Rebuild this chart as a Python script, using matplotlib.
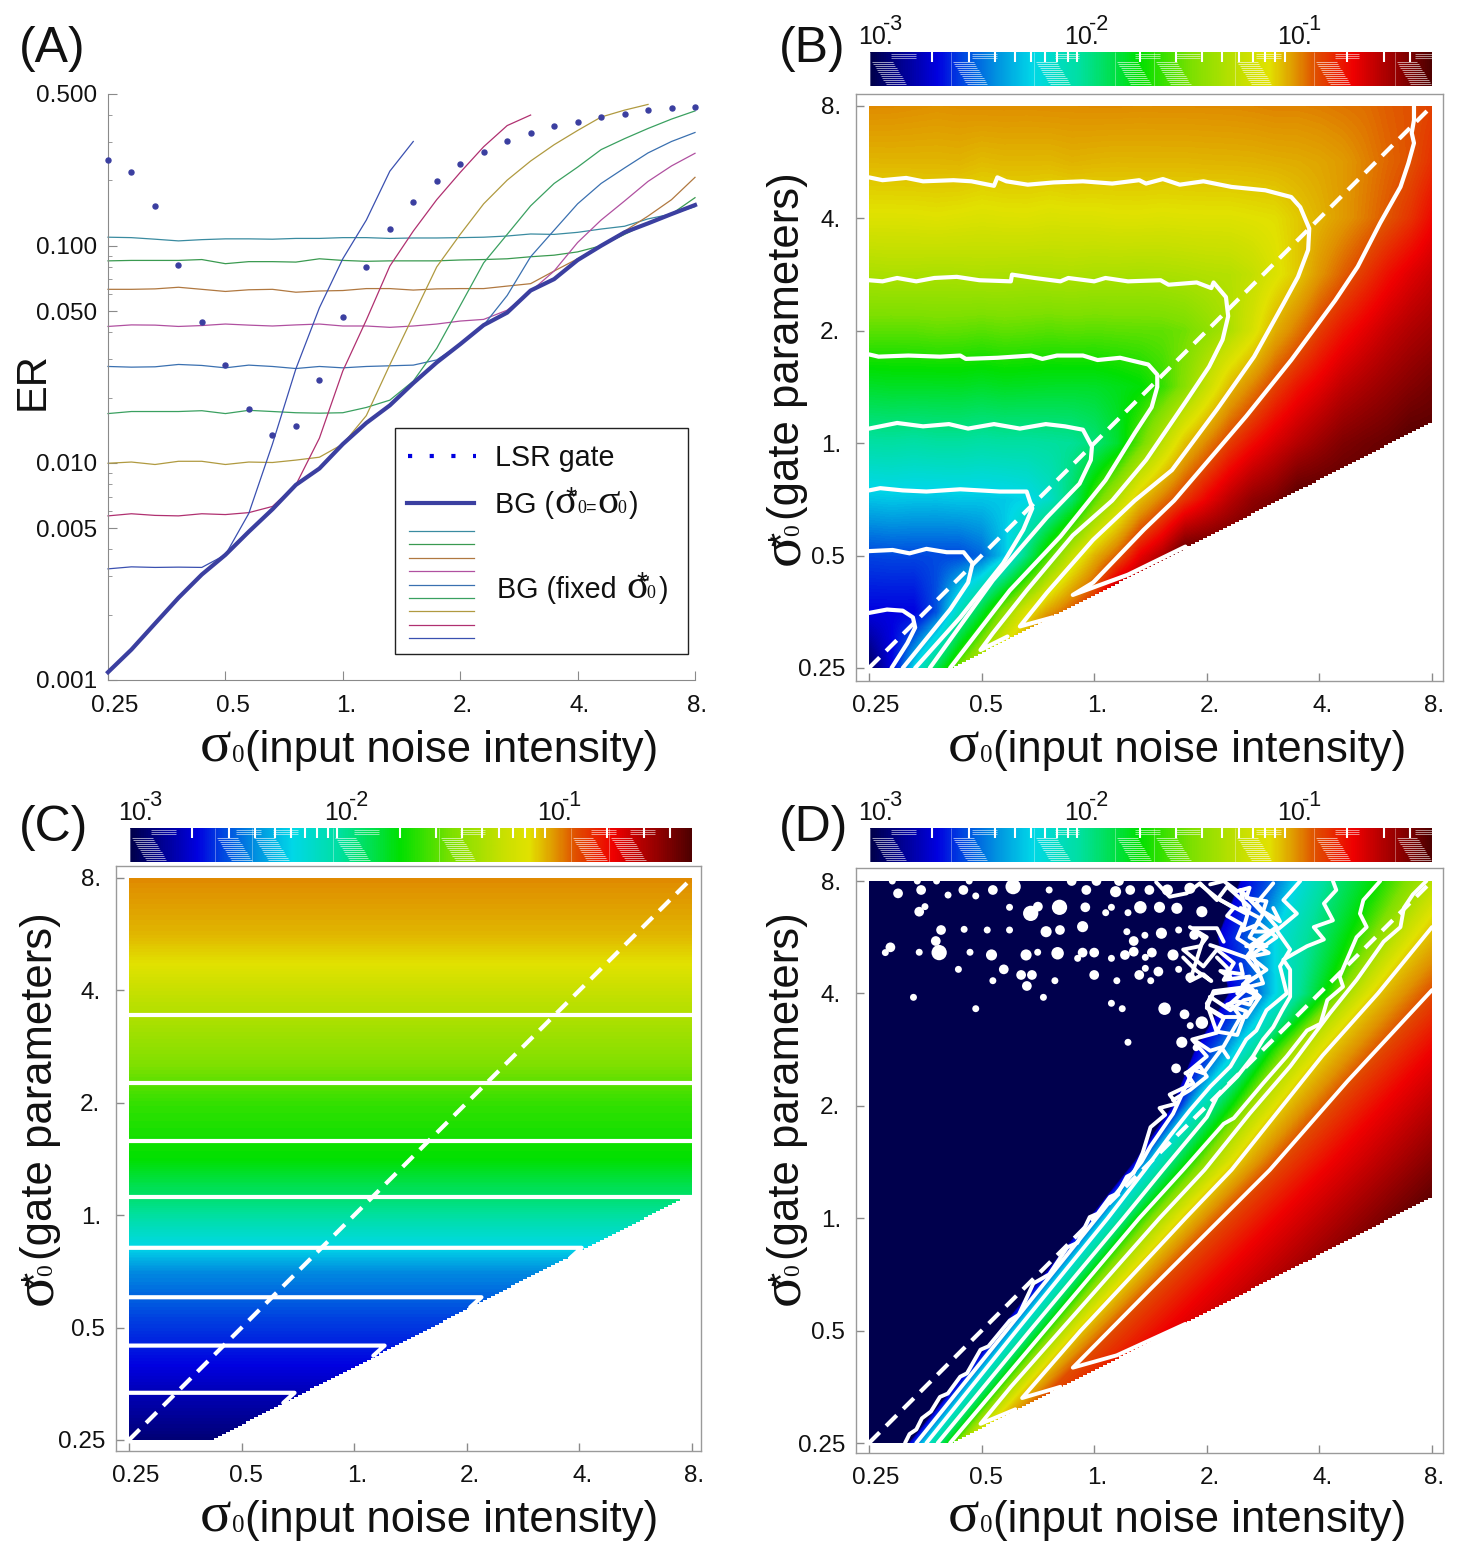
import numpy as np
import matplotlib
matplotlib.use('Agg')
import matplotlib.pyplot as plt
from matplotlib.colors import LinearSegmentedColormap
from matplotlib.lines import Line2D
from matplotlib.patches import Polygon, Rectangle
from matplotlib.transforms import ScaledTranslation

W, H = 1465, 1546
plt.rcParams['font.family'] = ['Liberation Sans', 'DejaVu Sans']

# noise intensities sampled along the x axis of panel A
sigma0 = [0.25, 0.287, 0.330, 0.379, 0.435, 0.5, 0.574, 0.660, 0.758, 0.871, 1.0, 1.149, 1.320,
          1.516, 1.741, 2.0, 2.297, 2.639, 3.031, 3.482, 4.0, 4.595, 5.278, 6.063, 6.964, 8.0]

lsr_gate = [.248, .219, .152, .0813, .0446, .0281, .0178, .01346, .01476, .02415, .0472, .0802, .120,
            .1596, .1995, .237, .271, .303, .331, .355, .372, .390, .405, .420, .429, .436]
bg_matched = [.001086, .00138, .00182, .00239, .00306, .00377, .00482, .00611, .00792, .00942, .0122,
              .01527, .0184, .0233, .0290, .0352, .0431, .0492, .0622, .0702, .0859, .100, .1153,
              .1268, .140, .154]

# error rate for a fixed gate parameter, one list per sigma*
bg_fixed_8 = [.1095, .109, .1072, .1053, .1067, .1076, .1076, .1072, .1081, .1081, .109, .109, .1081,
              .1086, .1086, .109, .1095, .1109, .1133, .1128, .1153, .1194, .123, .133, .140, .1514]
bg_fixed_566 = [.0852, .0856, .0856, .0856, .0864, .0827, .0845, .0845, .0841, .0871, .0856, .0848, .0852,
                .0852, .0852, .086, .0864, .0871, .089, .0905, .0937, .100, .1128, .1274, .140, .1665]
bg_fixed_4 = [.063, .063, .0633, .0644, .063, .0616, .0627, .063, .0611, .0619, .0622, .0635, .0635,
              .0625, .0633, .0635, .0635, .0652, .0669, .0765, .0871, .1, .1168, .137, .163, .2066]
bg_fixed_283 = [.0425, .0432, .0431, .0425, .0429, .0436, .0431, .0427, .0432, .0436, .0427, .0427, .0421,
                .0427, .0436, .045, .0458, .0505, .0616, .0765, .1035, .1313, .1608, .1979, .2332, .2666]
bg_fixed_2 = [.0278, .0276, .0277, .0284, .0281, .0274, .0282, .0278, .0272, .0278, .0274, .0278, .028,
              .0282, .0298, .0352, .0431, .059, .089, .1179, .156, .1936, .2282, .2677, .3022, .3324]
bg_fixed_141 = [.01687, .01724, .01724, .01724, .01739, .01687, .01746, .01724, .01702, .01694, .01702, .018,
                .01945, .0238, .0337, .053, .0834, .1128, .1527, .1936, .2302, .2772, .3114, .3469, .3832, .4178]
bg_fixed_1 = [.00996, .01009, .00983, .01017, .01017, .00983, .01009, .01004, .0103, .01062, .0122, .01651,
              .0283, .0476, .0799, .1128, .156, .2005, .2456, .292, .3396, .3916, .4214, .4477]
bg_fixed_071 = [.0057, .00583, .00573, .0057, .00583, .00578, .0059, .0063, .00792, .013, .0265, .0455,
                .0806, .1168, .163, .2176, .2858, .3577, .4]
bg_fixed_05 = [.00325, .00332, .0033, .00331, .0033, .00377, .00585, .0122, .0271, .0518, .0871, .1313,
               .2205, .3022]
bg_fixed_035 = [.0022, .0022, .0022, .0035, .0085, .0165, .036, .064, .1, .14, .2]
bg_fixed_025 = [.0011, .0022, .0065, .0145, .032, .06, .1, .15]

fixed_lines = [bg_fixed_8, bg_fixed_566, bg_fixed_4, bg_fixed_283, bg_fixed_2,
               bg_fixed_141, bg_fixed_1, bg_fixed_071, bg_fixed_05]
fixed_colors = ['#3a8ba0', '#3a9a50', '#b07840', '#b050a0', '#3a70b0',
                '#3aa060', '#b09a40', '#b03070', '#3a50b0']

# all maps use octaves above sigma = 0.25 as their coordinates
octave_ticks = [0, 1, 2, 3, 4, 5]
octave_labels = ['0.25', '0.5', '1.', '2.', '4.', '8.']
region_corner_u = .72
region_corner_v = 2.2

# colour scale: log10(ER) against colour, for the bars and for the maps
scale_colors = ['#00004d', '#0000e0', '#0040e0', '#0090e0', '#00d8e8', '#00e0a0', '#00e040', '#00e000',
                '#80e000', '#c8e000', '#e2e200', '#e09000', '#e05000', '#f00000', '#a00000', '#500000']
bar_log = [-3, -2.68, -2.57, -2.40, -2.22, -1.99, -1.81, -1.70, -1.44, -1.20, -1.07, -.94, -.85, -.667, -.48, -.29]
map_log = [-3, -2.66, -2.5, -2.35, -2.2, -1.99, -1.81, -1.70, -1.5, -1.28, -1.18, -.97, -.85, -.667, -.48, -.29]

# panel C depends on sigma* only
c_rows_v = [0, .5, 1, 1.5, 2, 2.5, 3, 3.5, 4, 4.5, 5]
c_rows_er = [.00125, .0019, .003, .0044, .0102, .02, .024, .036, .052, .085, .11]
c_contour_v = [3.78, 3.18, 2.66, 2.16, 1.71, 1.27, .84, .42]
c_contour_end = [5, 5, 5, 5, 4.02, 3.13, 2.27, 1.47]

# panel B contours, octave coordinates
b_c1_u = [0, .16, .30, .39, .41, .34, .20]
b_c1_v = [.49, .52, .51, .45, .36, .22, 0]
b_c2_u = [0, .21, .36, .51, .69, .84, .92, .88, .72, .30]
b_c2_v = [1.04, 1.05, 1.02, 1.06, 1.03, 1.03, .93, .76, .52, 0]
b_c3_u = [0, .10, .30, .51, .81, 1.16, 1.40, 1.45, 1.37, 1.19, .81, .41]
b_c3_v = [1.58, 1.60, 1.58, 1.57, 1.59, 1.57, 1.57, 1.42, 1.23, .93, .45, 0]
b_c4_u = [0, .25, .48, .71, .88, 1.11, 1.34, 1.57, 1.74, 1.90, 1.98, 1.97, 1.87, 1.58, 1.10, .54]
b_c4_v = [2.13, 2.18, 2.15, 2.17, 2.13, 2.17, 2.13, 2.17, 2.15, 2.12, 1.97, 1.85, 1.64, 1.34, .78, 0]
b_c5_u = [0, .085, .35, .63, .81, .86, 1.14, 1.44, 1.54, 1.67, 1.90, 2.03, 2.23, 2.48, 2.56, 2.56, 2.51,
          2.36, 2.1, 1.70, 1.25, .72]
b_c5_v = [2.79, 2.77, 2.78, 2.77, 2.78, 2.75, 2.76, 2.78, 2.75, 2.78, 2.78, 2.74, 2.76, 2.70, 2.61, 2.50,
          2.32, 2.09, 1.67, 1.17, .69, 0]
b_c6_u = [0, .12, .25, .42, .58, .78, .98, 1.26, 1.27, 1.47, 1.70, 1.77, 2.0, 2.1, 2.3, 2.59, 2.66, 2.91,
          3.04, 3.06, 3.17, 3.19, 3.14, 3.02, 2.82, 2.46, 2.16, 1.81, 1.40, 1.10, .99, 1.23]
b_c6_v = [3.45, 3.44, 3.47, 3.44, 3.47, 3.48, 3.45, 3.44, 3.50, 3.47, 3.44, 3.47, 3.44, 3.47, 3.44, 3.45,
          3.41, 3.43, 3.38, 3.43, 3.30, 3.13, 2.92, 2.68, 2.38, 1.85, 1.49, 1.18, .69, .31, .16, .28]
b_c7_u = [0, .12, .33, .48, .75, .91, 1.11, 1.14, 1.22, 1.41, 1.64, 1.90, 2.16, 2.40, 2.46, 2.61, 2.76, 2.97,
          3.22, 3.52, 3.75, 3.83, 3.91, 3.90, 3.81, 3.68, 3.42, 3.09, 2.69, 2.36, 1.99, 1.58, 1.34, 1.63]
b_c7_v = [4.365, 4.34, 4.36, 4.33, 4.34, 4.33, 4.29, 4.365, 4.33, 4.30, 4.32, 4.33, 4.31, 4.34, 4.31, 4.35,
          4.30, 4.33, 4.28, 4.25, 4.19, 4.10, 3.91, 3.72, 3.48, 3.24, 2.77, 2.30, 1.76, 1.49, 1.14, .67, .37, .45]
b_c8_u = [4.84, 4.84, 4.82, 4.84, 4.79, 4.72, 4.54, 4.34, 4.14, 3.75, 3.35, 2.71, 2.44, 1.99, 1.81, 2.3, 2.81]
b_c8_v = [5.0, 4.875, 4.76, 4.67, 4.49, 4.28, 3.96, 3.57, 3.27, 2.74, 2.24, 1.49, 1.23, .76, .65, .83, 1.08]
b_contours = [(b_c1_u, b_c1_v), (b_c2_u, b_c2_v), (b_c3_u, b_c3_v), (b_c4_u, b_c4_v),
              (b_c5_u, b_c5_v), (b_c6_u, b_c6_v), (b_c7_u, b_c7_v), (b_c8_u, b_c8_v)]

# panel D: sigma0 - sigma* (octaves) where each level is crossed, per row of sigma*
d_rows_v = [0, .5, 1, 1.5, 2, 2.5, 3, 3.5, 4, 4.5, 5]
d_levels_log = [-2.68, -2.41, -2.14, -1.94, -1.66, -1.38, -1.11, -.85]
d_cross_0 = [.36, .26, .16, .06, -.04, -.14, -.3, -.6, -.8, -1.4, -1.7]
d_cross_1 = [.42, .32, .22, .12, .02, -.08, -.2, -.4, -.55, -1.1, -1.4]
d_cross_2 = [.51, .41, .31, .22, .12, .02, -.1, -.2, -.35, -.85, -1.15]
d_cross_3 = [.61, .52, .43, .34, .26, .17, .05, -.05, -.15, -.55, -.9]
d_cross_4 = [.72, .64, .56, .48, .40, .35, .24, .09, .08, -.2, -.45]
d_cross_5 = [.82, .76, .70, .64, .58, .54, .41, .29, .25, .1, -.07]
d_cross_6 = [.96, .92, .88, .85, .81, .78, .68, .59, .52, .43, .33]
d_cross_7 = [1.14, 1.14, 1.14, 1.14, 1.13, 1.12, 1.07, 1.02, .97, .92, .87]

# panel D contours, octave coordinates
d_c1_u = [.32, .36, .42, .47, .55, .63, .70, .81, .87, .99, 1.06, 1.25, 1.33, 1.46, 1.60, 1.76, 1.85, 1.96, 2.03,
          2.14, 2.21, 2.29, 2.35, 2.43, 2.5, 2.63, 2.58, 2.73, 2.67, 2.88, 2.82, 3.0, 2.87, 3.09, 3.0, 3.06, 3.3]
d_c1_v = [0, .08, .12, .22, .28, .41, .44, .59, .62, .83, .86, 1.09, 1.14, 1.42, 1.50, 1.74, 1.78, 2.01, 2.04,
          2.19, 2.22, 2.37, 2.40, 2.58, 2.81, 2.92, 2.98, 3.02, 3.1, 3.2, 3.29, 3.44, 3.59, 3.65, 3.91, 4.0, 4.03]
d_c2_u = [.42, 1.22, 2.02, 2.42, 2.5, 2.70, 2.88, 2.97, 3.15, 3.3, 3.21, 3.38, 3.5, 3.38, 3.62, 3.44, 3.59]
d_c2_v = [0, 1, 2, 2.5, 2.64, 2.93, 3.32, 3.29, 3.53, 3.79, 3.91, 4.06, 4.09, 4.42, 4.59, 4.8, 4.98]
d_c3_u = [.51, 1.31, 2.12, 2.45, 2.67, 2.85, 3.03, 3.21, 3.35, 3.44, 3.53, 3.71, 3.65, 3.74, 3.62, 3.8, 3.68, 3.83]
d_c3_v = [0, 1, 2, 2.43, 2.73, 2.96, 3.17, 3.35, 3.59, 3.67, 3.85, 4.0, 4.24, 4.39, 4.56, 4.71, 4.83, 5.0]
d_c4_u = [.61, 1.43, 2.26, 2.61, 3.0, 3.09, 3.27, 3.41, 3.5, 3.59, 3.67, 3.74, 3.74, 3.68, 3.89, 4.04, 3.95, 4.12,
          4.04, 4.15, 4.12]
d_c4_v = [0, 1, 2, 2.43, 2.9, 3.08, 3.26, 3.44, 3.59, 3.7, 3.85, 3.97, 4.21, 4.3, 4.42, 4.48, 4.59, 4.65,
          4.8, 4.92, 5.0]
d_c5_u = [.72, 1.56, 2.40, 2.79, 3.15, 3.24, 3.50, 3.71, 3.89, 4.01, 4.07, 4.21, 4.18, 4.33, 4.42, 4.36, 4.39, 4.54]
d_c5_v = [0, 1, 2, 2.43, 2.84, 2.89, 3.2, 3.44, 3.67, 3.73, 3.94, 4.06, 4.15, 4.50, 4.59, 4.71, 4.83, 5.0]
d_c6_u = [1.3, .99, 1.26, 1.7, 2.58, 2.98, 3.38, 3.74, 4.09, 4.33, 4.57, 4.72, 4.75, 4.83, 4.95]
d_c6_v = [.3, .17, .5, 1.0, 2.0, 2.43, 2.93, 3.35, 3.82, 4.12, 4.46, 4.59, 4.76, 4.88, 5.0]
d_c7_u = [1.7, 1.36, 1.88, 2.81, 3.22, 4.03, 4.52, 5.0]
d_c7_v = [.5, .40, 1.0, 2.0, 2.43, 3.45, 4.0, 4.59]
d_c8_u = [2.81, 2.2, 1.81, 2.5, 3.56, 4.25, 5.0]
d_c8_v = [1.06, .78, .67, 1.37, 2.43, 3.22, 4.03]
d_contours = [(d_c1_u, d_c1_v), (d_c2_u, d_c2_v), (d_c3_u, d_c3_v), (d_c4_u, d_c4_v),
              (d_c5_u, d_c5_v), (d_c6_u, d_c6_v), (d_c7_u, d_c7_v), (d_c8_u, d_c8_v)]

# jagged contour fragments in the noisy part of panel D
d_m1_u = [2.55, 2.67, 2.82, 2.94, 3.09, 3.18, 3.38, 3.32, 3.47, 3.62, 3.38, 3.53, 3.35, 3.47]
d_m1_v = [4.99, 4.86, 4.89, 4.98, 4.83, 4.95, 4.77, 4.56, 4.62, 4.5, 4.33, 4.21, 4.09, 3.97]
d_m2_u = [2.85, 3.0, 2.94, 2.79, 2.97, 3.09, 3.24, 3.15, 3.38, 3.27]
d_m2_v = [4.59, 4.5, 4.42, 4.39, 4.24, 4.39, 4.27, 4.12, 4.15, 4.0]
d_m3_u = [3.03, 3.0, 3.15, 3.35, 3.47, 3.33, 3.21, 3.09, 3.03]
d_m3_v = [3.97, 3.88, 3.79, 3.79, 3.97, 3.94, 3.85, 3.93, 3.97]
d_m4_u = [3.12, 3.35, 3.3, 3.5, 3.38, 3.53, 3.35]
d_m4_v = [4.83, 4.71, 4.92, 4.71, 4.5, 4.42, 4.42]
d_m5_u = [2.81, 2.94, 3.0, 2.85, 2.70]
d_m5_v = [3.29, 3.35, 3.26, 3.14, 3.05]
d_m6_u = [2.94, 3.09, 3.24, 3.18, 3.32, 3.27, 3.41, 3.35, 3.21, 3.03]
d_m6_v = [4.97, 4.85, 4.76, 4.69, 4.61, 4.49, 4.40, 4.32, 4.37, 4.43]
d_m7_u = [2.79, 2.91, 3.04, 2.97, 2.85, 2.97, 2.88, 3.09, 3.15]
d_m7_v = [4.32, 4.20, 4.11, 4.17, 4.11, 4.49, 4.58, 4.58, 4.46]
d_m8_u = [3.30, 3.47, 3.41, 3.59, 3.44, 3.55, 3.35, 3.47, 3.32, 3.43, 3.30, 3.06, 3.0, 3.15, 3.09, 3.27, 3.35,
          3.18, 3.27, 3.38, 3.44]
d_m8_v = [4.76, 4.67, 4.55, 4.55, 4.43, 4.36, 4.32, 4.17, 4.08, 3.99, 4.05, 4.02, 3.87, 3.78, 3.66, 3.63, 3.84,
          3.90, 3.93, 3.90, 4.02]
d_m9_u = [2.91, 3.03, 3.13, 3.19]
d_m9_v = [3.57, 3.49, 3.52, 3.43]
d_m10_u = [3.09, 3.18, 3.21, 3.12, 3.32, 3.30]
d_m10_v = [4.32, 4.23, 4.14, 4.20, 4.17, 4.26]
d_m11_u = [3.03, 3.15, 3.27, 3.38, 3.35, 3.53, 3.50, 3.65, 3.59]
d_m11_v = [4.97, 5.0, 4.91, 4.94, 4.85, 4.82, 4.73, 4.64, 4.76]
d_fragments = [(d_m1_u, d_m1_v), (d_m2_u, d_m2_v), (d_m3_u, d_m3_v), (d_m4_u, d_m4_v), (d_m5_u, d_m5_v),
               (d_m6_u, d_m6_v), (d_m7_u, d_m7_v), (d_m8_u, d_m8_v), (d_m9_u, d_m9_v), (d_m10_u, d_m10_v),
               (d_m11_u, d_m11_v)]

# isolated contour islands in panel D: position and diameter in points
blob_u = [.258, .463, .702, .838, .948, 1.10, 1.28, 1.60, 1.93, 2.19, 2.32, 2.49, 2.65, 2.85, .207, .429, .60, .89,
          1.80, 2.02, 2.22, .446, .497, 1.248, 1.436, 1.50, 1.692, 1.921, 2.102, 2.153, 2.30, 2.41, 2.58, 2.734,
          2.956, .64, .845, 1.05, 1.248, 1.573, 1.696, 1.897, 2.29, 2.351, 2.45, 2.597, 2.75, 2.888, .593, .19, .145,
          .446, .623, .897, 1.088, 1.395, 1.498, 1.675, 1.853, 1.897, 2.0, 2.153, 2.273, 2.351, 2.454, 2.512, 2.70,
          .794, 1.197, 1.351, 1.447, 1.651, 1.10, 1.402, 2.0, 2.201, 2.40, 2.454, 2.57, 2.502, 2.75, 2.853, .395,
          1.549, .948, 2.153, 2.249, 2.625, 2.802, 2.853, 2.956, 2.30, 2.778, 2.905, 2.727]
blob_v = [4.89, 4.92, 4.875, 4.92, 4.867, 4.92, 4.95, 4.92, 4.92, 4.905, 4.92, 4.92, 4.92, 4.935, 5.0, 5.0, 5.0, 5.0,
          5.0, 5.0, 5.0, 4.727, 4.772, 4.766, 4.712, 4.772, 4.766, 4.766, 4.718, 4.766, 4.718, 4.766, 4.766, 4.757,
          4.727, 4.564, 4.57, 4.564, 4.564, 4.549, 4.564, 4.594, 4.549, 4.466, 4.517, 4.535, 4.564, 4.52, 4.466,
          4.41, 4.363, 4.366, 4.363, 4.366, 4.342, 4.342, 4.366, 4.357, 4.312, 4.363, 4.363, 4.312, 4.342, 4.371,
          4.321, 4.363, 4.342, 4.214, 4.214, 4.164, 4.164, 4.113, 4.113, 4.066, 4.164, 4.113, 4.164, 4.223, 4.194,
          4.113, 4.214, 4.143, 3.965, 3.965, 3.864, 3.912, 3.864, 3.864, 3.814, 3.713, 3.74, 3.565, 3.565, 3.517,
          3.333]
blob_d = [7, 7, 5, 7, 5, 7, 11, 5, 7, 8, 7, 7, 8, 8, 5, 5, 5, 5, 7, 7, 7, 7, 5, 5, 11, 7, 11, 7, 5, 5, 5, 9, 8, 8,
          8, 7, 5, 5, 5, 8, 7, 8, 5, 7, 5, 8, 5, 7, 7, 7, 5, 5, 11, 5, 8, 8, 5, 9, 5, 7, 7, 5, 7, 7, 5, 7, 8,
          5, 7, 7, 7, 5, 5, 7, 7, 5, 7, 5, 7, 5, 5, 7, 5, 5, 5, 5, 5, 9, 7, 5, 9, 5, 8, 5, 7]

# colour bar decorations, in log10(ER)
bar_ticks = [.002, .003, .004, .005, .006, .007, .008, .009, .01, .02, .03, .04, .05, .06, .07, .08, .09, .1,
             .2, .3, .4]
bar_marks_bd = [-3, -2.61, -2.21, -1.82, -1.63, -1.24, -.86, -.47]
bar_marks_c = [-3, -2.59, -2.41, -2.02, -1.51, -.875, -.69]


bar_cmap = LinearSegmentedColormap.from_list(
    'er_bar', [((v + 3) / 2.71, c) for v, c in zip(bar_log, scale_colors)])
map_cmap = LinearSegmentedColormap.from_list(
    'er_map', [((v + 3) / 2.71, c) for v, c in zip(map_log, scale_colors)])


def fx(x):
    return x / W


def fy(y):
    return 1 - y / H


def px_axes(left, top, right, bottom):
    return fig.add_axes([fx(left), fy(bottom), (right - left) / W, (bottom - top) / H])


def put_text(x, y, s, size, **kw):
    kw.setdefault('ha', 'left')
    kw.setdefault('va', 'baseline')
    return fig.text(fx(x), fy(y), s, fontsize=size, color='#111111', **kw)


def serif_text(x, y, s, size, **kw):
    return put_text(x, y, s, size, family='Liberation Serif', **kw)


def x_label(x, y):
    serif_text(x, y, '\u03c3', 42)
    serif_text(x + 32, y, '0', 18)
    put_text(x + 45, y, '(input noise intensity)', 31.4)


def y_label(x, y):
    serif_text(x, y, '\u03c3', 42, rotation=90, rotation_mode='anchor')
    serif_text(x, y - 29, '0', 17, rotation=90, rotation_mode='anchor')
    put_text(x - 5, y - 19, '*', 26, rotation=90, rotation_mode='anchor')
    put_text(x, y - 45, '(gate parameters)', 31.4, rotation=90, rotation_mode='anchor')


def shift_labels(labels, dx=0, dy=0):
    for lab, d in zip(labels, dx if np.iterable(dx) else [dx] * len(labels)):
        lab.set_transform(lab.get_transform() + ScaledTranslation(d / 100, dy / 100, fig.dpi_scale_trans))


def map_axes(left, top, right, bottom, map_left, map_top, map_right, map_bottom):
    # frame sits a little outside the map, ticks point inward on the left and bottom only
    ax = px_axes(left, top, right, bottom)
    per_u = (map_right - map_left) / 5
    per_v = (map_bottom - map_top) / 5
    ax.set_xlim((left - map_left) / per_u, 5 + (right - map_right) / per_u)
    ax.set_ylim((map_bottom - bottom) / per_v, 5 + (map_top - top) / per_v)
    for s in ax.spines.values():
        s.set_color('#9a9a9a')
        s.set_linewidth(1)
    ax.set_xticks(octave_ticks, octave_labels)
    ax.set_yticks(octave_ticks, octave_labels)
    ax.tick_params(direction='in', length=6, width=1, color='#8a8a8a', labelsize=17.5,
                   labelcolor='#111111', pad=10)
    ax.tick_params(axis='y', pad=8)
    shift_labels(ax.get_xticklabels(), [7, 4, 3, 3, 3, 2])
    shift_labels(ax.get_yticklabels(), [0, 0, -4, -5, -4, -4])
    return ax


def region_patch(ax):
    # map area with its stepped lower edge
    n = 120
    edge_u = np.linspace(region_corner_u, 5, n + 1)
    edge_v = np.linspace(0, region_corner_v, n + 1)
    steps = [(edge_u[i + 1], edge_v[i]) for i in range(n)]
    steps = [(region_corner_u, 0)] + [p for i, s in enumerate(steps) for p in (s, (s[0], edge_v[i + 1]))]
    verts = [(0, 0), (0, 5), (5, 5)] + steps[::-1]
    return Polygon(verts, closed=True, transform=ax.transData)


def show_field(ax, log_er, u0, u1, v0, v1):
    xlim, ylim = ax.get_xlim(), ax.get_ylim()
    im = ax.imshow(log_er, origin='lower', extent=(u0, u1, v0, v1), aspect='auto', cmap=map_cmap,
                   vmin=-3, vmax=-.29, interpolation='bilinear', interpolation_stage='data', zorder=1)
    im.set_clip_path(region_patch(ax))
    ax.set_xlim(xlim)
    ax.set_ylim(ylim)
    return im


def add_contour(ax, u, v, lw=3.0):
    box = Rectangle((0, 0), 5, 5, transform=ax.transData)
    line, = ax.plot(u, v, color='white', lw=lw, solid_joinstyle='round', solid_capstyle='round', zorder=3)
    line.set_clip_path(box)


def add_diagonal(ax):
    ax.plot([0, 5], [0, 5], color='white', lw=3.0, dashes=(3.6, 2.2), zorder=4)


def color_bar(left, top, right, bottom, marks, label_y, label_xs):
    ax = px_axes(left, top, right, bottom)
    ax.imshow(np.linspace(-3, -.29, 560)[None, :], extent=(-3, -.29, 0, 1), aspect='auto', cmap=bar_cmap,
              vmin=-3, vmax=-.29)
    ax.vlines(np.log10(bar_ticks), .71, 1, color='white', lw=1.5)
    for m in marks:
        ax.vlines(m, 0, 1, color='white', lw=.6, alpha=.4)
        for y in [.95, .88, .81]:
            ax.hlines(y, m + .1, m + .22, color='white', lw=.7, alpha=.55)
        for j in range(13):
            y = .72 - j * .06
            ax.hlines(y, m + .01 + j * .006, m + .11 + j * .006, color='white', lw=.7, alpha=.6)
    ax.set_xlim(-3, -.29)
    ax.set_ylim(0, 1)
    ax.axis('off')
    for x, lab in zip(label_xs, ['-3', '-2', '-1']):
        put_text(x, label_y, '10.', 18)
        put_text(x + 25, label_y - 14, lab, 15.5)


fig = plt.figure(figsize=(W / 100, H / 100), dpi=100)

# (A) error rates against the input noise
ax_a = px_axes(108, 94, 695, 680)
for er, col in zip(fixed_lines, fixed_colors):
    ax_a.plot(sigma0[:len(er)], er, color=col, lw=.9, clip_on=False, zorder=2)
ax_a.plot(sigma0, bg_matched, color='#3b3fa0', lw=3, zorder=3, clip_on=False)
ax_a.plot(sigma0, lsr_gate, ls='none', marker='o', ms=3.6, color='#3b3fa0', clip_on=False, zorder=4)
ax_a.set_xscale('log', base=2)
ax_a.set_yscale('log')
ax_a.set_xlim(.25, 8)
ax_a.set_ylim(.001, .5)
ax_a.spines['top'].set_visible(False)
ax_a.spines['right'].set_visible(False)
ax_a.spines['left'].set_color('#8a8a8a')
ax_a.spines['bottom'].set_color('#8a8a8a')
ax_a.set_xticks([.25, .5, 1, 2, 4, 8], octave_labels)
ax_a.minorticks_off()
ax_a.set_yticks([.001, .005, .01, .05, .1, .5], ['0.001', '0.005', '0.010', '0.050', '0.100', '0.500'])
ax_a.yaxis.set_minor_locator(matplotlib.ticker.LogLocator(base=10, subs=np.arange(2, 10) / 1.0, numticks=6))
ax_a.yaxis.set_minor_formatter(matplotlib.ticker.NullFormatter())
ax_a.tick_params(which='major', direction='in', length=6.5, color='#8a8a8a', labelsize=17.5,
                 labelcolor='#111111', pad=11)
ax_a.tick_params(axis='y', which='major', pad=8)
ax_a.tick_params(which='minor', direction='in', length=3, color='#8a8a8a')
shift_labels(ax_a.get_xticklabels(), [7, 8, 3, 3, 2, 2])

# legend box of panel A
fig.add_artist(Rectangle((fx(395), fy(654)), 293 / W, 226 / H, transform=fig.transFigure,
                         facecolor='white', edgecolor='#222222', lw=1, zorder=5))
fig.add_artist(Line2D([fx(408), fx(476)], [fy(456), fy(456)], transform=fig.transFigure, color='#0000e0',
                      lw=3, dashes=(1, 4.2), zorder=6))
fig.add_artist(Line2D([fx(407), fx(474)], [fy(503), fy(503)], transform=fig.transFigure, color='#3b3fa0',
                      lw=3, zorder=6))
for i, col in enumerate(fixed_colors):
    y = 531 + i * 13.4
    fig.add_artist(Line2D([fx(409), fx(474)], [fy(y), fy(y)], transform=fig.transFigure, color=col, lw=.9, zorder=6))
for t in [
    put_text(495, 466, 'LSR gate', 20.6),
    put_text(495, 513, 'BG (', 20.6),
    serif_text(554, 513, '\u03c3', 30),
    put_text(566, 505, '*', 20),
    serif_text(577, 513, '0', 13),
    put_text(585, 513, '=', 13),
    serif_text(597, 513, '\u03c3', 30),
    serif_text(617, 513, '0', 13),
    put_text(629, 513, ')', 20.6),
    put_text(497, 598, 'BG (fixed ', 20.6),
    serif_text(626, 598, '\u03c3', 30),
    put_text(637, 590, '*', 20),
    serif_text(646, 598, '0', 13),
    put_text(659, 598, ')', 20.6),
]:
    t.set_zorder(7)

# (B) gate with noisy rows
ax_b = map_axes(856, 94, 1443, 681, 869, 106, 1432, 668)
b_rows = [bg_fixed_025, bg_fixed_035, bg_fixed_05, bg_fixed_071, bg_fixed_1, bg_fixed_141, bg_fixed_2,
          bg_fixed_283, bg_fixed_4, bg_fixed_566, bg_fixed_8]
b_table = np.full((len(b_rows), len(sigma0)), .5)
for i, row in enumerate(b_rows):
    b_table[i, :len(row)] = row
show_field(ax_b, np.log10(b_table), -.1, 5.1, -.25, 5.25)
for u, v in b_contours:
    add_contour(ax_b, u, v)
add_diagonal(ax_b)

# (C) depends on sigma* alone
ax_c = map_axes(116, 866, 701, 1451, 129, 878, 692, 1440)
c_table = np.log10(np.array(c_rows_er))[:, None] * np.ones((1, 2))
show_field(ax_c, c_table, 0, 5, -.25, 5.25)
for v, end in zip(c_contour_v, c_contour_end):
    if end < 5:
        add_contour(ax_c, [0, end, end - .1], [v, v, v - .09])
    else:
        add_contour(ax_c, [0, end], [v, v])
add_diagonal(ax_c)

# (D) field rebuilt from the level crossings of each row
ax_d = map_axes(856, 868, 1443, 1453, 869, 881, 1432, 1443)
d_cross = np.array([d_cross_0, d_cross_1, d_cross_2, d_cross_3, d_cross_4, d_cross_5, d_cross_6, d_cross_7]).T
grid_u = np.linspace(-.1, 5.1, 421)
grid_v = np.linspace(-.1, 5.1, 421)
d_field = np.zeros((grid_v.size, grid_u.size))
for i, v in enumerate(grid_v):
    cross = [np.interp(v, d_rows_v, d_cross[:, k]) for k in range(8)]
    knots = [cross[0] - .02] + cross + [cross[7] + .5, cross[7] + 1.7]
    vals = [-3.1] + d_levels_log + [-.667, -.33]
    d_field[i] = np.interp(grid_u - v, knots, vals)
show_field(ax_d, d_field, -.1, 5.1, -.1, 5.1)
for u, v in d_contours + d_fragments:
    add_contour(ax_d, u, v, lw=2.8)
ax_d.scatter(blob_u, blob_v, s=np.array(blob_d) ** 2, color='white', linewidths=0, zorder=3, clip_on=True)
add_diagonal(ax_d)

color_bar(870, 52, 1432, 86, bar_marks_bd, 44, [858, 1064, 1277])
color_bar(130, 828, 692, 862, bar_marks_c, 820, [118, 324, 537])
color_bar(870, 828, 1432, 862, bar_marks_bd, 820, [858, 1064, 1277])

# axis titles and panel letters
for x, y in [(200, 762), (948, 762), (200, 1532), (948, 1532)]:
    x_label(x, y)
for x, y in [(799, 565), (52, 1305), (799, 1305)]:
    y_label(x, y)
put_text(44, 410, 'ER', 30, rotation=90, rotation_mode='anchor')
put_text(19, 62, '(A)', 36)
put_text(779, 62, '(B)', 36)
put_text(19, 841, '(C)', 36)
put_text(779, 841, '(D)', 36)

fig.savefig('out.png', dpi=100, facecolor='white')
